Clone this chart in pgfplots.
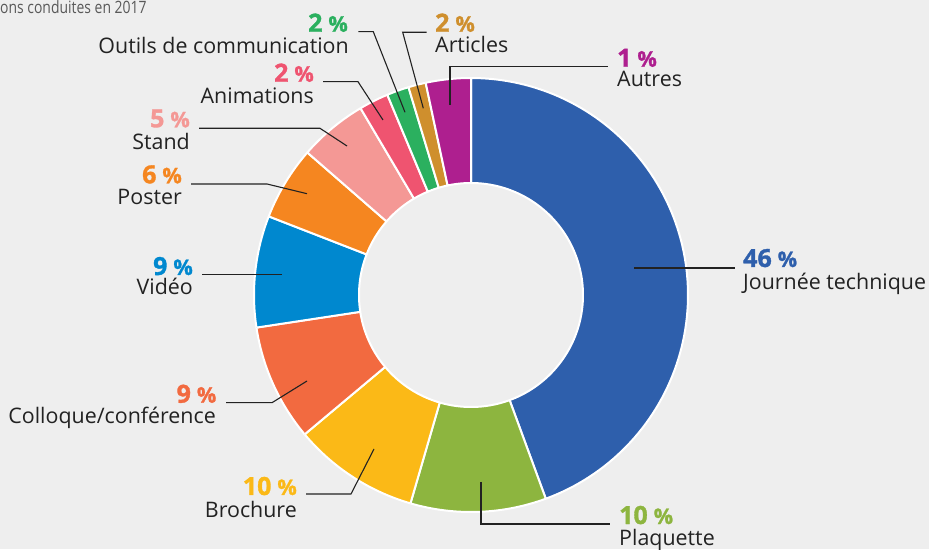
\documentclass[border=0pt]{standalone}
\usepackage{fontspec}
\setmainfont{Open Sans}
\newfontfamily\condfont[FakeStretch=0.82]{Open Sans}
\newfontfamily\pctfont[BoldFeatures={FakeBold=1.2}]{Open Sans}
\usepackage{pgfplots}
\pgfplotsset{compat=1.18}
\definecolor{bgc}{HTML}{EEEEEE}
\definecolor{txt}{HTML}{222222}
\definecolor{cJou}{HTML}{2E5FAC}
\definecolor{cPla}{HTML}{8DB53F}
\definecolor{cBro}{HTML}{FBB917}
\definecolor{cCol}{HTML}{F26A40}
\definecolor{cVid}{HTML}{0088CF}
\definecolor{cPos}{HTML}{F58620}
\definecolor{cSta}{HTML}{F49895}
\definecolor{cAni}{HTML}{EF5470}
\definecolor{cOut}{HTML}{2BB05F}
\definecolor{cArt}{HTML}{CF8F2D}
\definecolor{cAut}{HTML}{AE1F8F}
% one donut slice: #1 = cumulative start (%), #2 = share (%), #3 = colour
\newcommand\slice[3]{%
  \addplot[fill=#3, draw=white, line width=2pt, line join=round, domain=0:4, samples=401, variable=\t]
   ({471+rr(\t)*sin(aa(\t,#1*3.6,(#1+#2)*3.6))},{254+rr(\t)*cos(aa(\t,#1*3.6,(#1+#2)*3.6))});
}
\newcommand\pv[1]{{\fontsize{25}{26}\selectfont #1}\hspace{6pt}{\fontsize{21.5}{22}\selectfont\%}}
\newcommand\pct[3]{\node[anchor=#1, inner sep=0pt, text=#2, font=\pctfont\bfseries] at #3}
\newcommand\lab[2]{\node[anchor=#1, inner sep=0pt, text=txt, font=\fontsize{21.4}{22}\selectfont] at #2}
\begin{document}
\begin{tikzpicture}
\path[use as bounding box] (0,0) rectangle (929pt,549pt);
\fill[bgc] (0,0) rectangle (929pt,549pt);
\begin{axis}[
  at={(0,0)}, anchor=south west,
  width=929pt, height=549pt, scale only axis,
  xmin=0, xmax=929, ymin=0, ymax=549,
  hide axis, clip=false, no marks,
  declare function={
    rr(\t)=(\t<1) ? 217 : ((\t<2) ? (217-105*(\t-1)) : ((\t<3) ? 112 : (112+105*(\t-3))));
    aa(\t,\a,\b)=(\t<1) ? (\a+(\b-\a)*\t) : ((\t<2) ? \b : ((\t<3) ? (\b-(\b-\a)*(\t-2)) : \a));
  },
]
% slices: start, share
\slice{0}{44.4}{cJou}
\slice{44.4}{10.1}{cPla}
\slice{54.5}{9.4}{cBro}
\slice{63.9}{8.7}{cCol}
\slice{72.6}{8.3}{cVid}
\slice{80.9}{5.5}{cPos}
\slice{86.4}{5.1}{cSta}
\slice{91.5}{2.2}{cAni}
\slice{93.7}{1.65}{cOut}
\slice{95.35}{1.3}{cArt}
\slice{96.65}{3.35}{cAut}

% leader lines
\addplot[txt, line width=1.1pt] coordinates {(634,281) (735,281)};
\addplot[txt, line width=1.1pt] coordinates {(481,67) (481,25) (610,25)};
\addplot[txt, line width=1.1pt] coordinates {(374,100) (351,55) (306,55)};
\addplot[txt, line width=1.1pt] coordinates {(307,168) (272,146.3) (226,146.3)};
\addplot[txt, line width=1.1pt] coordinates {(282,274.7) (202,274.7)};
\addplot[txt, line width=1.1pt] coordinates {(307,355.3) (267,365) (191,365)};
\addplot[txt, line width=1.1pt] coordinates {(347,403) (320,420.7) (199,420.7)};
\addplot[txt, line width=1.1pt] coordinates {(383,429) (358,467.3) (323,467.3)};
\addplot[txt, line width=1.1pt] coordinates {(405,436.7) (373.3,517.3) (358.3,517.3)};
\addplot[txt, line width=1.1pt] coordinates {(423.3,440.7) (402.7,516.7) (426.7,516.7)};
\addplot[txt, line width=1.1pt] coordinates {(450,444) (450,482.3) (608,482.3)};

% labels
\pct{base west}{cJou}{(axis cs:743,282)} {\pv{46}};
\lab{base west}{(axis cs:743,259)} {Journée technique};
\pct{base west}{cPla}{(axis cs:619,25)} {\pv{10}};
\lab{base west}{(axis cs:619,4)} {Plaquette};
\pct{base east}{cBro}{(axis cs:297,54)} {\pv{10}};
\lab{base east}{(axis cs:297,32)} {Brochure};
\pct{base east}{cCol}{(axis cs:216.5,146.3)} {\pv{9}};
\lab{base east}{(axis cs:216,125.7)} {Colloque/conférence};
\pct{base east}{cVid}{(axis cs:193,274)} {\pv{9}};
\lab{base east}{(axis cs:193,254)} {Vidéo};
\pct{base east}{cPos}{(axis cs:182,365.7)} {\pv{6}};
\lab{base east}{(axis cs:182,344)} {Poster};
\pct{base east}{cSta}{(axis cs:190,421.7)} {\pv{5}};
\lab{base east}{(axis cs:190,399.7)} {Stand};
\pct{base east}{cAni}{(axis cs:314,467.3)} {\pv{2}};
\lab{base east}{(axis cs:314,445.7)} {Animations};
\pct{base east}{cOut}{(axis cs:348,517.3)} {\pv{2}};
\lab{base east}{(axis cs:349,495.7)} {Outils de communication};
\pct{base west}{cArt}{(axis cs:435,517.3)} {\pv{2}};
\lab{base west}{(axis cs:435,496)} {Articles};
\pct{base west}{cAut}{(axis cs:617,482.3)} {\pv{1}};
\lab{base west}{(axis cs:617,462.3)} {Autres};

\node[anchor=base west, inner sep=0pt, text=black!65, font=\condfont\fontsize{17}{18}\selectfont] at (axis cs:0,535) {ons conduites en 2017};
\end{axis}
\end{tikzpicture}
\end{document}
